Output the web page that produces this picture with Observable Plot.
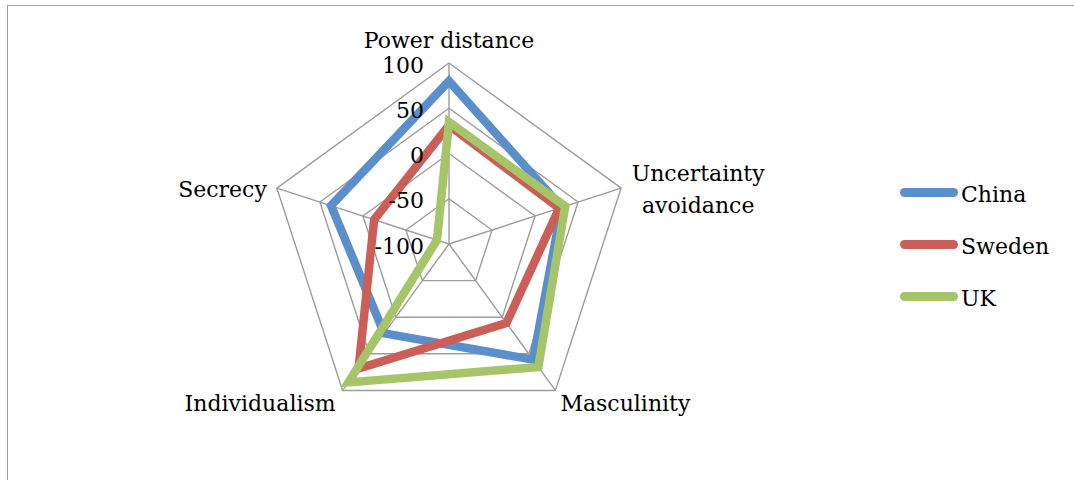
<!DOCTYPE html>
<html>
<head>
<meta charset="utf-8">
<script src="https://cdn.jsdelivr.net/npm/d3@7"></script>
<script src="https://cdn.jsdelivr.net/npm/@observablehq/plot@0.6"></script>
<style>
  html, body { margin: 0; padding: 0; background: #fff; overflow: hidden; }
  #wrap { position: relative; width: 1074px; height: 480px; font-family: "DejaVu Serif", serif; }
  #border { position: absolute; left: 7px; top: 5px; right: -20px; bottom: -20px;
            border-top: 1.5px solid #a0a0a0; border-left: 1.5px solid #a0a0a0; pointer-events: none; }
  .lg-line { position: absolute; left: 900px; width: 58px; height: 9px; border-radius: 4.5px; }
  .lg-text { position: absolute; left: 961px; font-size: 22px; line-height: 22px; color: #000; white-space: nowrap; }
</style>
</head>
<body>
<div id="wrap"><div id="border"></div></div>
<script>
// ---- data ----
const axes = ["Power distance", "Uncertainty avoidance", "Masculinity", "Individualism", "Secrecy"];
const axisLabels = ["Power distance", "Uncertainty\navoidance", "Masculinity", "Individualism", "Secrecy"];
const ticks = [-100, -50, 0, 50, 100];
const countries = ["China", "Sweden", "UK"];
const china = [80, 31, 58, 22, 37];
const sweden = [31, 28, 8, 70, -13];
const uk = [35, 35, 68, 89, -86];
const colors = ["#5A8FCB", "#CB5E57", "#A6C468"];

// ---- helpers (polar -> cartesian in data units) ----
const vmin = -100, vmax = 100;
const rad = v => (v - vmin) / (vmax - vmin);
const ang = i => i * 2 * Math.PI / axes.length;
const px = (v, i) => rad(v) * Math.sin(ang(i));
const py = (v, i) => rad(v) * Math.cos(ang(i));

const seriesValues = [china, sweden, uk];
const points = countries.flatMap((c, k) =>
  seriesValues[k].map((v, i) => ({country: c, axis: axes[i], i, value: v})));

const rings = ticks.filter(t => t > vmin).flatMap(t =>
  axes.map((a, i) => ({tick: t, i})));

const spokes = axes.map((a, i) => ({axis: a, i}));

// label styling (offsets from the outer vertex)
const labelAnchor = ["middle", "middle", "start", "end", "end"];
const labelDx = [0, 77, 5, -7, -10];
const labelDy = [-25.5, -1.5, 10, 10, -1.5];

const cx = 448.5, cy = 243.5, R = 181;

const chart = Plot.plot({
  width: 1074,
  height: 480,
  margin: 0,
  x: {domain: [-1, 1], range: [cx - R, cx + R], axis: null},
  y: {domain: [-1, 1], range: [cy + R, cy - R], axis: null},
  color: {domain: countries, range: colors},
  style: {fontFamily: "DejaVu Serif", background: "transparent", overflow: "visible"},
  marks: [
    Plot.line(rings, {
      x: d => px(d.tick, d.i), y: d => py(d.tick, d.i), z: "tick",
      curve: "linear-closed", stroke: "#9c9c9c", strokeWidth: 1.4
    }),
    Plot.link(spokes, {
      x1: 0, y1: 0,
      x2: d => px(vmax, d.i), y2: d => py(vmax, d.i),
      stroke: "#9c9c9c", strokeWidth: 1.4
    }),
    Plot.line(points, {
      x: d => px(d.value, d.i), y: d => py(d.value, d.i), z: "country",
      stroke: "country", strokeWidth: 8.5, curve: "linear-closed",
      strokeLinejoin: "miter", strokeMiterlimit: 10
    }),
    Plot.text(ticks, {
      x: 0, y: t => rad(t), text: t => String(t),
      textAnchor: "end", dx: -25, dy: 2.5, fontSize: 22, fill: "#000"
    }),
    ...axes.map((a, i) => Plot.text([i], {
      x: j => px(vmax, j), y: j => py(vmax, j), text: j => axisLabels[j],
      textAnchor: labelAnchor[i], dx: labelDx[i], dy: labelDy[i],
      fontSize: 22, lineHeight: 1.45, fill: "#000"
    }))
  ]
});

const wrap = document.getElementById("wrap");
wrap.insertBefore(chart, wrap.firstChild);

// legend (HTML, to the right)
countries.forEach((c, k) => {
  const yc = 192.3 + k * 52.2;
  const line = document.createElement("div");
  line.className = "lg-line";
  line.style.top = (yc - 4.5) + "px";
  line.style.background = colors[k];
  wrap.appendChild(line);
  const txt = document.createElement("div");
  txt.className = "lg-text";
  txt.style.top = (yc - 8.6) + "px";
  txt.textContent = c;
  wrap.appendChild(txt);
});
</script>
</body>
</html>
